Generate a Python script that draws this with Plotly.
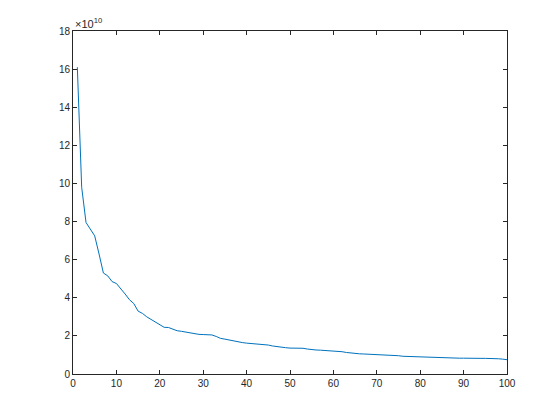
import plotly.graph_objects as go

# values in units of 1e10
x_idx = list(range(1, 101))
values_e10 = [
    16.1, 9.8, 7.95, 7.6, 7.25, 6.3, 5.3, 5.15, 4.85, 4.75,
    4.5, 4.2, 3.9, 3.7, 3.3, 3.18, 3.0, 2.86, 2.73, 2.62,
    2.45, 2.44, 2.36, 2.27, 2.24, 2.2, 2.13, 2.1, 2.08, 2.07,
    2.06, 2.05, 1.97, 1.87, 1.83, 1.78, 1.72, 1.68, 1.65, 1.62,
    1.6, 1.57, 1.56, 1.55, 1.52, 1.47, 1.43, 1.41, 1.38, 1.36,
    1.36, 1.35, 1.35, 1.31, 1.27, 1.26, 1.25, 1.24, 1.22, 1.21,
    1.19, 1.17, 1.13, 1.1, 1.08, 1.06, 1.05, 1.04, 1.03, 1.03,
    1.0, 0.98, 0.97, 0.96, 0.96, 0.93, 0.92, 0.92, 0.92, 0.92,
    0.91, 0.89, 0.88, 0.88, 0.87, 0.86, 0.85, 0.84, 0.83, 0.83,
    0.82, 0.82, 0.82, 0.82, 0.82, 0.82, 0.81, 0.8, 0.78, 0.75,
]
x_ticks = list(range(0, 101, 10))
y_ticks = list(range(0, 19, 2))

fig = go.Figure()
fig.add_trace(go.Scatter(x=x_idx, y=values_e10, mode="lines",
                         line=dict(color="#0072bd", width=1)))

axis_style = dict(showgrid=False, zeroline=False, showline=True, mirror="ticks",
                  linecolor="#262626", linewidth=1, ticks="inside", ticklen=4,
                  tickcolor="#262626", tickfont=dict(family="Liberation Sans, Arial", size=10, color="#262626"))

fig.update_xaxes(range=[0, 100], tickvals=x_ticks, **axis_style)
fig.update_yaxes(range=[0, 18], tickvals=y_ticks, **axis_style)

fig.add_annotation(text="×10<sup>10</sup>", xref="paper", yref="paper", x=0, y=1,
                   xanchor="left", yanchor="bottom", showarrow=False, yshift=-1,
                   font=dict(family="Liberation Sans, Arial", size=11, color="#262626"))

# page body adds an 8px offset, margins compensate
fig.update_layout(width=560, height=420, showlegend=False,
                  margin=dict(l=65, r=61, t=23, b=54),
                  plot_bgcolor="white", paper_bgcolor="white")

fig.write_html("out.html")
